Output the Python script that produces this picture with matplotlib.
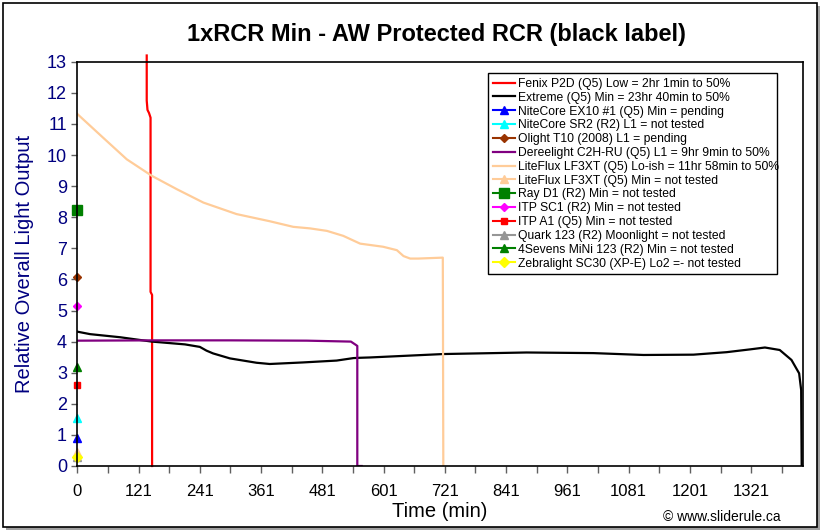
import matplotlib
matplotlib.use('Agg')
import matplotlib.pyplot as plt
from matplotlib.patches import Rectangle

plt.rcParams['font.family'] = ['Liberation Sans', 'DejaVu Sans']

# runtime curves (minutes, relative output)
fenix_t = [136, 136, 137.5, 140.5, 143.5, 143.5, 146.5, 146.5]
fenix_y = [13.2, 11.75, 11.45, 11.35, 11.2, 5.6, 5.5, 0]

extreme_t = [0, 25, 84, 146, 211, 240, 253, 266, 299, 351, 377, 442, 508, 541,
             554, 573, 717, 880, 1011, 1109, 1207, 1272, 1318, 1347, 1376,
             1399, 1414, 1418, 1419]
extreme_y = [4.32, 4.24, 4.14, 4.0, 3.91, 3.83, 3.71, 3.62, 3.46, 3.32, 3.28,
             3.33, 3.39, 3.47, 3.48, 3.49, 3.60, 3.65, 3.63, 3.57, 3.58, 3.66,
             3.75, 3.81, 3.73, 3.41, 2.98, 2.44, 0]

deree_t = [0, 150, 300, 450, 536, 546, 548.5, 548.5, 557]
deree_y = [4.03, 4.04, 4.04, 4.03, 4.0, 3.89, 3.86, 0, 0]

liteflux_t = [0, 51, 97, 146, 195, 247, 312, 377, 423, 456, 489, 521, 554,
              599, 626, 639, 652, 668, 716, 717]
liteflux_y = [11.32, 10.55, 9.86, 9.33, 8.90, 8.47, 8.10, 7.87, 7.69, 7.64,
              7.56, 7.40, 7.15, 7.05, 6.94, 6.75, 6.67, 6.67, 6.70, 0]

# single starting points (not tested / pending), all at t=0
ex10_y = 0.91
sr2_y = 1.54
t10_y = 6.08
liteflux_min_y = 0.46
rayd1_y = 8.23
sc1_y = 5.14
a1_y = 2.61
quark_y = 0.3
mini_y = 3.19
zebra_y = 0.3

x_ticks = [0, 120, 240, 360, 480, 600, 720, 840, 960, 1080, 1200, 1320]
x_labels = ['0', '121', '241', '361', '481', '601', '721', '841', '961',
            '1081', '1201', '1321']

fig = plt.figure(figsize=(8.23, 5.32), dpi=100, facecolor='white')

# chart border with a small shadow
fig.patches.append(Rectangle((6/823, 2/532), 814/823, 524/532, transform=fig.transFigure,
                             facecolor='#a0a0a0', edgecolor='none', zorder=-2))
fig.patches.append(Rectangle((3/823, 5/532), 814/823, 524/532, transform=fig.transFigure,
                             facecolor='white', edgecolor='black', lw=1.2, zorder=-1))

ax = fig.add_axes([77.3/823, 66/532, 725.4/823, 404.3/532])
ax.set_facecolor('white')

ax.plot(fenix_t, fenix_y, color='#ff0000', lw=1.6, clip_on=False,
        label='Fenix P2D (Q5) Low = 2hr 1min to 50%')
ax.plot(extreme_t, extreme_y, color='black', lw=1.6, label='Extreme (Q5) Min = 23hr 40min to 50%')
ax.plot([0], [ex10_y], color='#0000ff', marker='^', ms=6, clip_on=False,
        label='NiteCore EX10 #1 (Q5) Min = pending')
ax.plot([0], [sr2_y], color='#00ffff', marker='^', ms=6, clip_on=False,
        label='NiteCore SR2 (R2) L1 = not tested')
ax.plot([0], [t10_y], color='#993300', marker='D', ms=4.5, clip_on=False,
        label='Olight T10 (2008) L1 = pending')
ax.plot(deree_t, deree_y, color='#800080', lw=1.6, label='Dereelight C2H-RU (Q5) L1 = 9hr 9min to 50%')
ax.plot(liteflux_t, liteflux_y, color='#ffcc99', lw=1.6,
        label='LiteFlux LF3XT (Q5) Lo-ish = 11hr 58min to 50%')
ax.plot([0], [liteflux_min_y], color='#ffcc99', marker='^', ms=6, clip_on=False,
        label='LiteFlux LF3XT (Q5) Min = not tested')
ax.plot([0], [rayd1_y], color='#008000', marker='s', ms=7.5, clip_on=False,
        label='Ray D1 (R2) Min = not tested')
ax.plot([0], [sc1_y], color='#ff00ff', marker='D', ms=4.5, clip_on=False,
        label='ITP SC1 (R2) Min = not tested')
ax.plot([0], [a1_y], color='#ff0000', marker='s', ms=5, clip_on=False,
        label='ITP A1 (Q5) Min = not tested')
ax.plot([0], [quark_y], color='#969696', marker='^', ms=6, clip_on=False,
        label='Quark 123 (R2) Moonlight = not tested')
ax.plot([0], [mini_y], color='#008000', marker='^', ms=6, clip_on=False,
        label='4Sevens MiNi 123 (R2) Min = not tested')
ax.plot([0], [zebra_y], color='#ffff00', marker='D', ms=5, clip_on=False,
        label='Zebralight SC30 (XP-E) Lo2 =- not tested')

ax.set_xlim(0, 1421)
ax.set_ylim(0, 13)
ax.set_yticks(range(0, 14))
ax.set_xticks(x_ticks)
ax.set_xticklabels(x_labels)
ax.set_xticks(range(60, 1421, 120), minor=True)
ax.tick_params(axis='y', labelsize=13, labelcolor='#000080', color='#606060', length=4, width=1)
ax.tick_params(axis='x', which='both', labelsize=12, labelcolor='black', color='#606060',
               length=5, width=1, pad=8)
for s in ax.spines.values():
    s.set_color('black')
    s.set_linewidth(1.2)

ax.set_xlabel('Time (min)', fontsize=14.5, labelpad=2)
ax.set_ylabel('Relative Overall Light Output', fontsize=14.5, color='#000080', labelpad=9)

fig.text(436/823, 1 - 35/532, '1xRCR Min - AW Protected RCR (black label)', fontsize=17,
         fontweight='bold', ha='center', va='center')
fig.text(722/823, 1 - 517/532, '\u00a9 www.sliderule.ca', fontsize=10, ha='center', va='center')

# legend box fixed to the reference frame, long labels may run past it
leg = ax.legend(loc='upper left', bbox_to_anchor=(488/823, 1 - 73/532 - 0.01, 289/823, 0.01),
                bbox_transform=fig.transFigure, mode='expand', fontsize=8.75, frameon=True,
                fancybox=False, edgecolor='black', framealpha=1, borderpad=0.4,
                labelspacing=0.15, handlelength=1.85, handletextpad=0.2, borderaxespad=0)
leg.get_frame().set_linewidth(1.0)

fig.savefig('out.png', dpi=100, facecolor='white')
